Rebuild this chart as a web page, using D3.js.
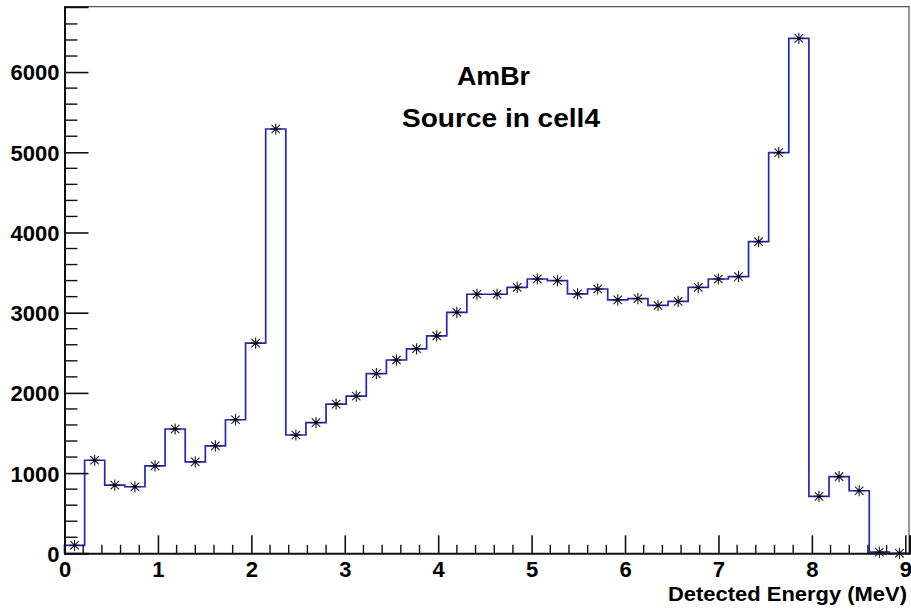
<!DOCTYPE html>
<html>
<head>
<meta charset="utf-8">
<script src="https://cdn.jsdelivr.net/npm/d3@7/dist/d3.min.js"></script>
<style>
  html, body { margin: 0; padding: 0; background: #fff; }
  svg { display: block; }
  text { font-family: "Liberation Sans", Arial, Helvetica, sans-serif; font-weight: bold; fill: #000; }
</style>
</head>
<body>
<svg id="chart" width="911" height="610"></svg>
<script>
// Detected energy spectrum: 42 equal bins spanning 0 – 9.045 MeV
const binLow = 0;
const binHigh = 9.045;
const counts = [
  100, 1160, 850, 830, 1090, 1550, 1140, 1340, 1665, 2620,
  5290, 1475, 1630, 1860, 1960, 2240, 2410, 2550, 2710, 3005,
  3230, 3230, 3315, 3420, 3400, 3235, 3295, 3160, 3175, 3090,
  3140, 3315, 3420, 3450, 3885, 4995, 6420, 710, 955, 780,
  15, 0
];
const xMajorTicks = [0, 1, 2, 3, 4, 5, 6, 7, 8, 9];
const yMajorTicks = [0, 1000, 2000, 3000, 4000, 5000, 6000];
const titleLines = ["AmBr", "Source in cell4"];
const xTitle = "Detected Energy (MeV)";
const yMax = 6815;

const svg = d3.select("#chart");
const frame = { left: 64.5, right: 909.5, top: 6.7, bottom: 553.3 };

const x = d3.scaleLinear().domain([binLow, binHigh]).range([frame.left, frame.right]);
const y = d3.scaleLinear().domain([0, yMax]).range([frame.bottom, frame.top]);

const nBins = counts.length;
const binWidth = (binHigh - binLow) / nBins;
const bins = counts.map((v, i) => ({
  lo: binLow + i * binWidth,
  hi: binLow + (i + 1) * binWidth,
  mid: binLow + (i + 0.5) * binWidth,
  v
}));

// Step outline of the histogram
const stepPts = [[binLow, 0]];
bins.forEach(b => { stepPts.push([b.lo, b.v]); stepPts.push([b.hi, b.v]); });
stepPts.push([binHigh, 0]);
const stepLine = d3.line().x(d => x(d[0])).y(d => y(d[1]));

const plot = svg.append("g");
plot.append("path")
  .attr("d", stepLine(stepPts))
  .attr("fill", "none")
  .attr("stroke", "#2626b8")
  .attr("stroke-width", 1.7);

// Star markers at bin centres
const star = plot.append("g").selectAll("g").data(bins).join("g")
  .attr("transform", d => `translate(${x(d.mid)},${y(d.v)})`);
const r = 5.6, rd = 4.2;
[[0, -r, 0, r], [-r, 0, r, 0], [-rd, -rd, rd, rd], [-rd, rd, rd, -rd]].forEach(s => {
  star.append("line")
    .attr("x1", s[0]).attr("y1", s[1]).attr("x2", s[2]).attr("y2", s[3])
    .attr("stroke", "#1a1a1a").attr("stroke-width", 1.1);
});
star.append("circle").attr("r", 1.7).attr("fill", "#000030");

// Frame (top/right)
svg.append("line").attr("x1", frame.left).attr("x2", frame.right)
  .attr("y1", frame.top).attr("y2", frame.top)
  .attr("stroke", "#555").attr("stroke-width", 1.2);
svg.append("line").attr("x1", frame.right - 0.5).attr("x2", frame.right - 0.5)
  .attr("y1", frame.top).attr("y2", frame.bottom)
  .attr("stroke", "#555").attr("stroke-width", 1.2);

// X axis with inward ticks
const xAxis = d3.axisBottom(x).tickValues(xMajorTicks).tickSize(-18).tickPadding(0).tickFormat(d3.format("d"));
const gx = svg.append("g").attr("transform", `translate(0,${frame.bottom})`).call(xAxis);
gx.select(".domain").attr("stroke", "#111").attr("stroke-width", 2);
gx.selectAll(".tick line").attr("stroke", "#111").attr("stroke-width", 1.6);
gx.selectAll(".tick text").attr("font-size", 22).attr("dy", 0).attr("y", 24);
const xMinor = d3.range(0, 9.01, 0.2).filter(v => Math.abs(v - Math.round(v)) > 1e-6);
gx.append("g").selectAll("line").data(xMinor).join("line")
  .attr("x1", d => x(d)).attr("x2", d => x(d)).attr("y1", 0).attr("y2", -8.5)
  .attr("stroke", "#111").attr("stroke-width", 1.4);

// Y axis
const yAxis = d3.axisLeft(y).tickValues(yMajorTicks).tickSize(-24).tickPadding(0).tickFormat(d3.format("d"));
const gy = svg.append("g").attr("transform", `translate(${frame.left},0)`).call(yAxis);
gy.select(".domain").attr("stroke", "#111").attr("stroke-width", 2);
gy.selectAll(".tick line").attr("stroke", "#111").attr("stroke-width", 1.6);
gy.selectAll(".tick text").attr("font-size", 22).attr("x", -5).attr("dy", "0.36em");
const yMinor = d3.range(0, 6700, 200).filter(v => v % 1000 !== 0);
gy.append("g").selectAll("line").data(yMinor).join("line")
  .attr("x1", 0).attr("x2", 13).attr("y1", d => y(d)).attr("y2", d => y(d))
  .attr("stroke", "#111").attr("stroke-width", 1.4);

// Axis title
svg.append("text")
  .attr("x", 907).attr("y", 601)
  .attr("text-anchor", "end")
  .attr("font-size", 21)
  .attr("textLength", 239).attr("lengthAdjust", "spacingAndGlyphs")
  .text(xTitle);

// Plot title (two lines)
svg.append("text").attr("x", 493.5).attr("y", 85).attr("text-anchor", "middle")
  .attr("font-size", 26).attr("textLength", 73).attr("lengthAdjust", "spacingAndGlyphs")
  .text(titleLines[0]);
svg.append("text").attr("x", 501).attr("y", 126.5).attr("text-anchor", "middle")
  .attr("font-size", 26.5).attr("textLength", 198).attr("lengthAdjust", "spacingAndGlyphs")
  .text(titleLines[1]);
</script>
</body>
</html>
